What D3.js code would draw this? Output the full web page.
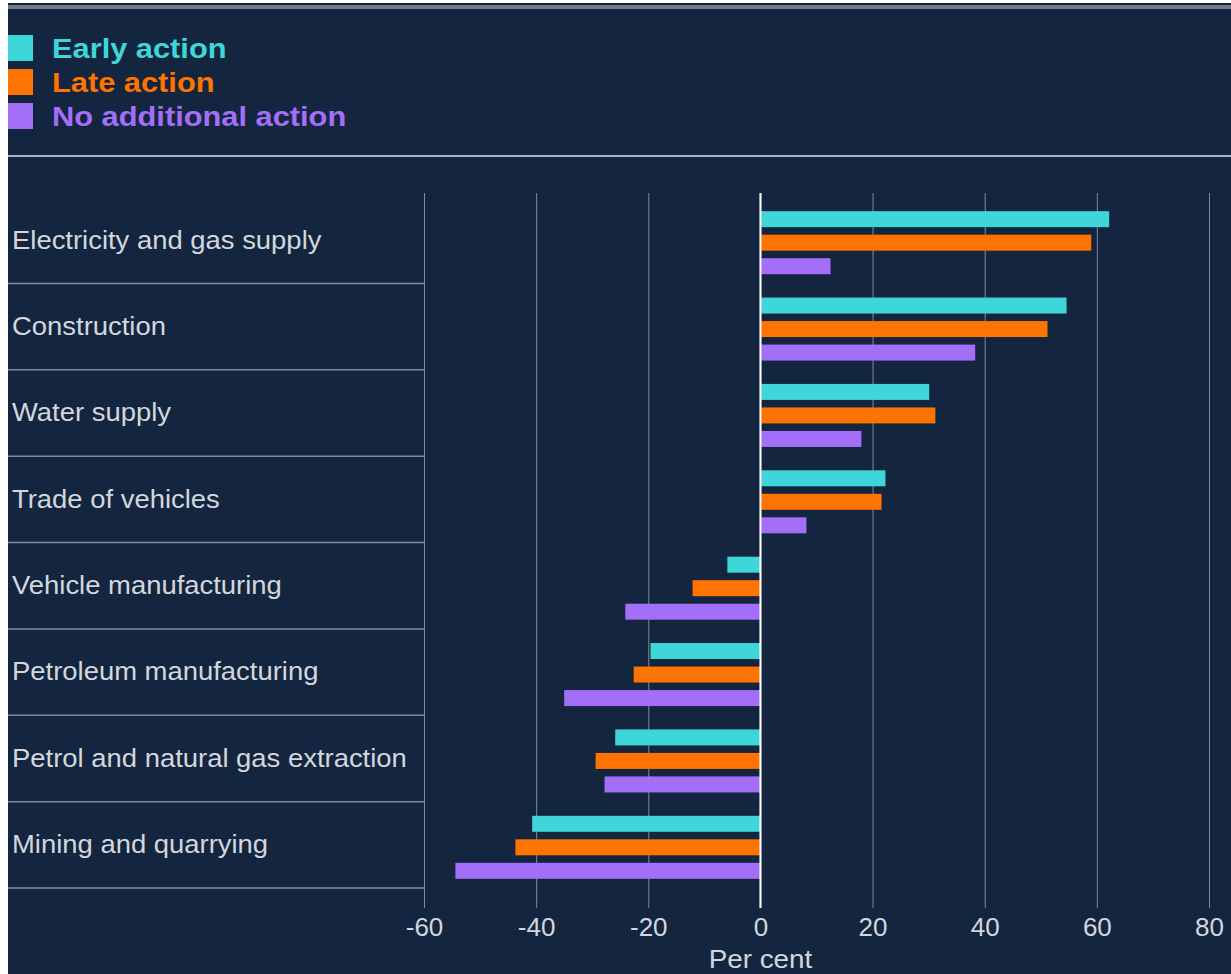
<!DOCTYPE html>
<html>
<head>
<meta charset="utf-8">
<script src="https://cdn.jsdelivr.net/npm/d3@7"></script>
<style>
  body { margin: 0; background: #ffffff; }
  svg { display: block; font-family: "Liberation Sans", Arial, sans-serif; }
</style>
</head>
<body>
<div id="chart"></div>
<script>
// data
const categories = [
    "Electricity and gas supply",
    "Construction",
    "Water supply",
    "Trade of vehicles",
    "Vehicle manufacturing",
    "Petroleum manufacturing",
    "Petrol and natural gas extraction",
    "Mining and quarrying"
];
const seriesNames = ["Early action", "Late action", "No additional action"];
const earlyAction = [62.2, 54.6, 30.1, 22.3, -5.9, -19.6, -25.9, -40.7];
const lateAction = [59.0, 51.2, 31.2, 21.6, -12.1, -22.6, -29.4, -43.7];
const noAction = [12.5, 38.3, 18.0, 8.2, -24.1, -35.0, -27.8, -54.4];
const xTicks = [-60, -40, -20, 0, 20, 40, 60, 80];

const colors = ["#3ed6d8", "#ff7300", "#a46ff8"];
const bg = "#14263f";
const textCol = "#d3d7dd";
const W = 1231, H = 974;

const svg = d3.select("#chart").append("svg")
    .attr("width", W)
    .attr("height", H);

// panel
svg.append("rect")
    .attr("x", 8).attr("y", 3)
    .attr("width", W - 8).attr("height", H - 3)
    .attr("fill", bg);
svg.append("rect")
    .attr("x", 8).attr("y", 5)
    .attr("width", W - 8).attr("height", 4)
    .attr("fill", "#6f7b8b");
svg.append("rect")
    .attr("x", 8).attr("y", 155)
    .attr("width", W - 8).attr("height", 2)
    .attr("fill", "#a9b1bc");

// legend (source text is a little stretched sideways)
const legend = svg.append("g");
seriesNames.forEach((s, i) => {
    const g = legend.append("g").attr("transform", `translate(8, ${35 + i * 34})`);
    g.append("rect")
        .attr("width", 25).attr("height", 26)
        .attr("fill", colors[i]);
    g.append("text")
        .attr("transform", "translate(44, 13) scale(1.1, 1)")
        .attr("dy", "0.36em")
        .attr("fill", colors[i])
        .style("font-size", "28px")
        .style("font-weight", "bold")
        .text(s);
});

// scales
const x = d3.scaleLinear()
    .domain([-60, 80])
    .range([424, 1209]);
const y = d3.scaleBand()
    .domain(categories)
    .range([197, 888]);
const inner = d3.scaleBand()
    .domain(seriesNames)
    .range([-29, 34])
    .paddingInner(0.32);

const gridTop = 193, gridBottom = 908;

// grid + x axis
const xAxis = svg.append("g")
    .attr("transform", `translate(0, ${gridBottom})`)
    .call(d3.axisBottom(x)
        .tickValues(xTicks)
        .tickSize(-(gridBottom - gridTop))
        .tickPadding(10)
        .tickFormat(d3.format("d")));
xAxis.select(".domain").remove();
xAxis.selectAll(".tick line")
    .attr("stroke", "#7f8b9b")
    .attr("stroke-width", 1);
xAxis.selectAll(".tick text")
    .attr("fill", textCol)
    .style("font-size", "26px")
    .text(d => d < 0 ? "-" + Math.abs(d) : d);

svg.append("text")
    .attr("transform", `translate(${x(0)}, 968) scale(1.07, 1)`)
    .attr("text-anchor", "middle")
    .attr("fill", textCol)
    .style("font-size", "26px")
    .text("Per cent");

// category separators and labels
svg.append("g")
    .selectAll("line")
    .data(categories)
    .join("line")
    .attr("x1", 8).attr("x2", x(-60))
    .attr("y1", d => y(d) + y.bandwidth())
    .attr("y2", d => y(d) + y.bandwidth())
    .attr("stroke", "#7f8b9b")
    .attr("stroke-width", 1.5);

svg.append("g")
    .selectAll("text")
    .data(categories)
    .join("text")
    .attr("transform", d => `translate(12, ${y(d) + y.bandwidth() / 2 - 1}) scale(1.055, 1)`)
    .attr("dy", "0.36em")
    .attr("fill", textCol)
    .style("font-size", "26px")
    .text(d => d);

// bars
const rows = categories.map((c, i) => ({
    cat: c,
    vals: [earlyAction[i], lateAction[i], noAction[i]]
}));

const groups = svg.append("g")
    .selectAll("g")
    .data(rows)
    .join("g")
    .attr("transform", d => `translate(0, ${y(d.cat) + y.bandwidth() / 2})`);

groups.selectAll("rect")
    .data(d => d.vals.map((v, j) => ({ s: seriesNames[j], v: v, j: j })))
    .join("rect")
    .attr("x", d => x(Math.min(0, d.v)))
    .attr("width", d => Math.abs(x(d.v) - x(0)))
    .attr("y", d => inner(d.s))
    .attr("height", inner.bandwidth())
    .attr("fill", d => colors[d.j]);

// zero line
svg.append("line")
    .attr("x1", x(0)).attr("x2", x(0))
    .attr("y1", gridTop).attr("y2", gridBottom)
    .attr("stroke", "#ffffff")
    .attr("stroke-width", 2);
</script>
</body>
</html>
